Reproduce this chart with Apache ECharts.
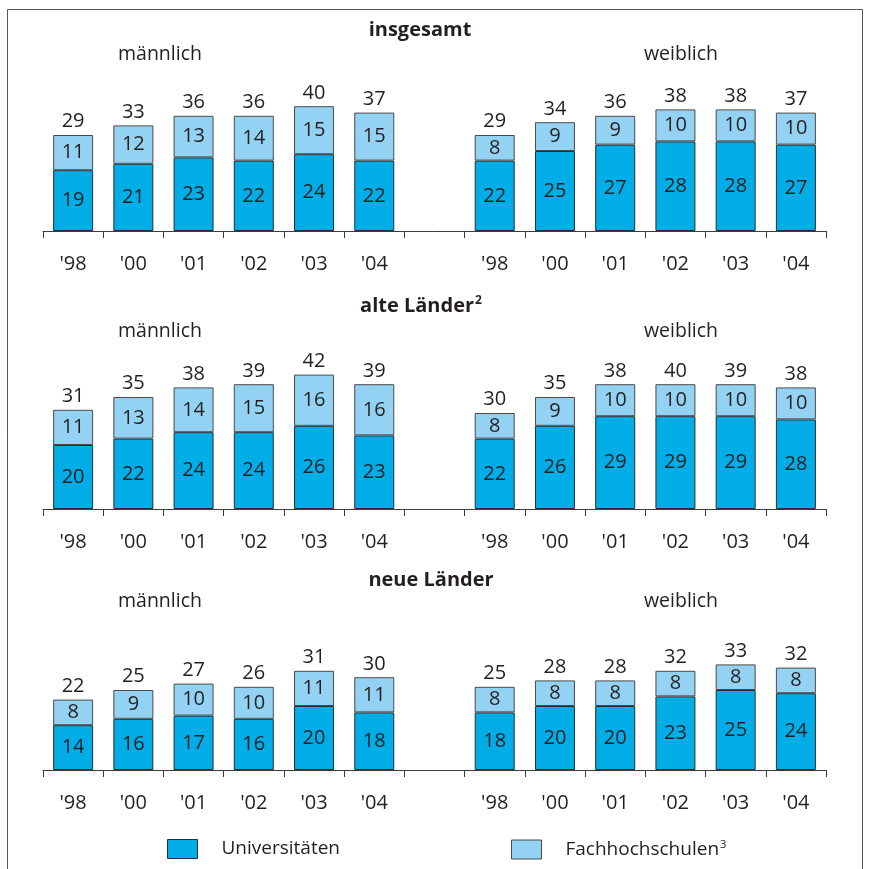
<!DOCTYPE html>
<html><head><meta charset="utf-8">
<script src="https://cdn.jsdelivr.net/npm/echarts@6/dist/echarts.min.js"></script>
<style>html,body{margin:0;padding:0;background:#fff}#c{width:869px;height:869px}</style>
</head><body><div id="c"></div>
<script>
// categories: 6 years male, gap, 6 years female
const categories = ["'98","'00","'01","'02","'03","'04","","'98","'00","'01","'02","'03","'04"];
const panelTitles = ['insgesamt', 'alte Länder', 'neue Länder'];
const groupTitles = ['männlich', 'weiblich'];
const seriesNames = ['Universitäten', 'Fachhochschulen'];

// insgesamt
const uniTotal = [19,21,23,22,24,22, null, 22,25,27,28,28,27];
const fhTotal  = [11,12,13,14,15,15, null, 8,9,9,10,10,10];
const sumTotal = [29,33,36,36,40,37, null, 29,34,36,38,38,37];
// alte Länder
const uniAlt = [20,22,24,24,26,23, null, 22,26,29,29,29,28];
const fhAlt  = [11,13,14,15,16,16, null, 8,9,10,10,10,10];
const sumAlt = [31,35,38,39,42,39, null, 30,35,38,40,39,38];
// neue Länder
const uniNeu = [14,16,17,16,20,18, null, 18,20,20,23,25,24];
const fhNeu  = [8,9,10,10,11,11, null, 8,8,8,8,8,8];
const sumNeu = [22,25,27,26,31,30, null, 25,28,28,32,33,32];

const panels = [
  {uni: uniTotal, fh: fhTotal, sum: sumTotal},
  {uni: uniAlt, fh: fhAlt, sum: sumAlt},
  {uni: uniNeu, fh: fhNeu, sum: sumNeu}
];

const FONT = '"Open Sans", sans-serif';
const TXT = '#231f20';
const C_UNI = '#00ade6';
const C_FH = '#93d2f3';
const baselines = [231, 509, 770];
const plotH = 160, yMax = 50;
const FS = 20;

const grid = [], xAxis = [], yAxis = [], series = [];
panels.forEach((p, i) => {
  grid.push({left: 43, right: 43, top: baselines[i] - plotH, height: plotH});
  xAxis.push({
    type: 'category', gridIndex: i, data: categories,
    axisLine: {lineStyle: {color: '#3a3a3a', width: 1}},
    axisTick: {show: true, length: 7, lineStyle: {color: '#3a3a3a'}},
    axisLabel: {margin: 23, fontSize: FS, color: TXT, fontFamily: FONT, interval: 0}
  });
  yAxis.push({type: 'value', gridIndex: i, min: 0, max: yMax, show: false, splitLine: {show: false}});
  series.push({
    name: seriesNames[0], type: 'bar', stack: 's' + i, xAxisIndex: i, yAxisIndex: i,
    barWidth: 40, data: p.uni,
    itemStyle: {color: C_UNI, borderColor: '#2b2b2b', borderWidth: 1},
    label: {show: true, position: 'inside', fontSize: FS, color: TXT, fontFamily: FONT}
  });
  series.push({
    name: seriesNames[1], type: 'bar', stack: 's' + i, xAxisIndex: i, yAxisIndex: i,
    barWidth: 40, data: p.fh,
    itemStyle: {color: C_FH, borderColor: '#4a4a4a', borderWidth: 1},
    label: {show: true, position: 'inside', fontSize: FS, color: TXT, fontFamily: FONT}
  });
  series.push({
    name: 'total', type: 'scatter', xAxisIndex: i, yAxisIndex: i, symbolSize: 0.5,
    itemStyle: {color: '#ffffff', opacity: 1}, z: 5, silent: true,
    data: p.uni.map((u, k) => u == null ? null : [k, u + p.fh[k]]),
    label: {show: true, position: 'top', distance: 3, fontSize: FS, color: TXT, opacity: 1, fontFamily: FONT,
      formatter: (d) => String(p.sum[d.dataIndex])}
  });
});

const titleY = [30, 306, 580];
const subY = [54, 331, 601];
const titleX = [420, 421, 431];
const graphic = [
  {type: 'rect', shape: {x: 7.5, y: 9.5, width: 855, height: 880}, style: {fill: 'none', stroke: '#555', lineWidth: 1}, silent: true}
];
panelTitles.forEach((t, i) => {
  graphic.push({type: 'text', x: titleX[i], y: titleY[i], style: {
    text: i === 1 ? t + '{sup|2}' : t, fill: TXT, font: 'bold 20px ' + FONT,
    align: 'center', verticalAlign: 'middle',
    rich: {sup: {fontSize: 12, fontWeight: 'bold', verticalAlign: 'top', padding: [0,0,10,1], fill: TXT, fontFamily: FONT}}
  }});
  graphic.push({type: 'text', x: 160, y: subY[i], style: {text: groupTitles[0], fill: TXT, font: '19.5px ' + FONT, align: 'center', verticalAlign: 'middle'}});
  graphic.push({type: 'text', x: 681, y: subY[i], style: {text: groupTitles[1], fill: TXT, font: '19.5px ' + FONT, align: 'center', verticalAlign: 'middle'}});
});

const legendBase = {
  top: 834, itemWidth: 30, itemHeight: 19, icon: 'rect', itemGap: 0,
  textStyle: {fontSize: 19, color: TXT, fontFamily: FONT, padding: [0, 0, 0, 19],
    rich: {sup: {fontSize: 11, verticalAlign: 'top', padding: [0, 0, 10, 1], color: TXT, fontFamily: FONT}}}
};
const legend = [
  Object.assign({}, legendBase, {left: 162, data: [{name: seriesNames[0], itemStyle: {color: C_UNI, borderColor: '#2b2b2b', borderWidth: 1}}]}),
  Object.assign({}, legendBase, {left: 506, data: [{name: seriesNames[1], itemStyle: {color: C_FH, borderColor: '#4a4a4a', borderWidth: 1}}],
    formatter: (n) => n + '{sup|3}'})
];

const chart = echarts.init(document.getElementById('c'), null, {renderer: 'canvas'});
chart.setOption({
  animation: false, backgroundColor: '#fff',
  grid, xAxis, yAxis, series, legend, graphic
});
</script></body></html>
